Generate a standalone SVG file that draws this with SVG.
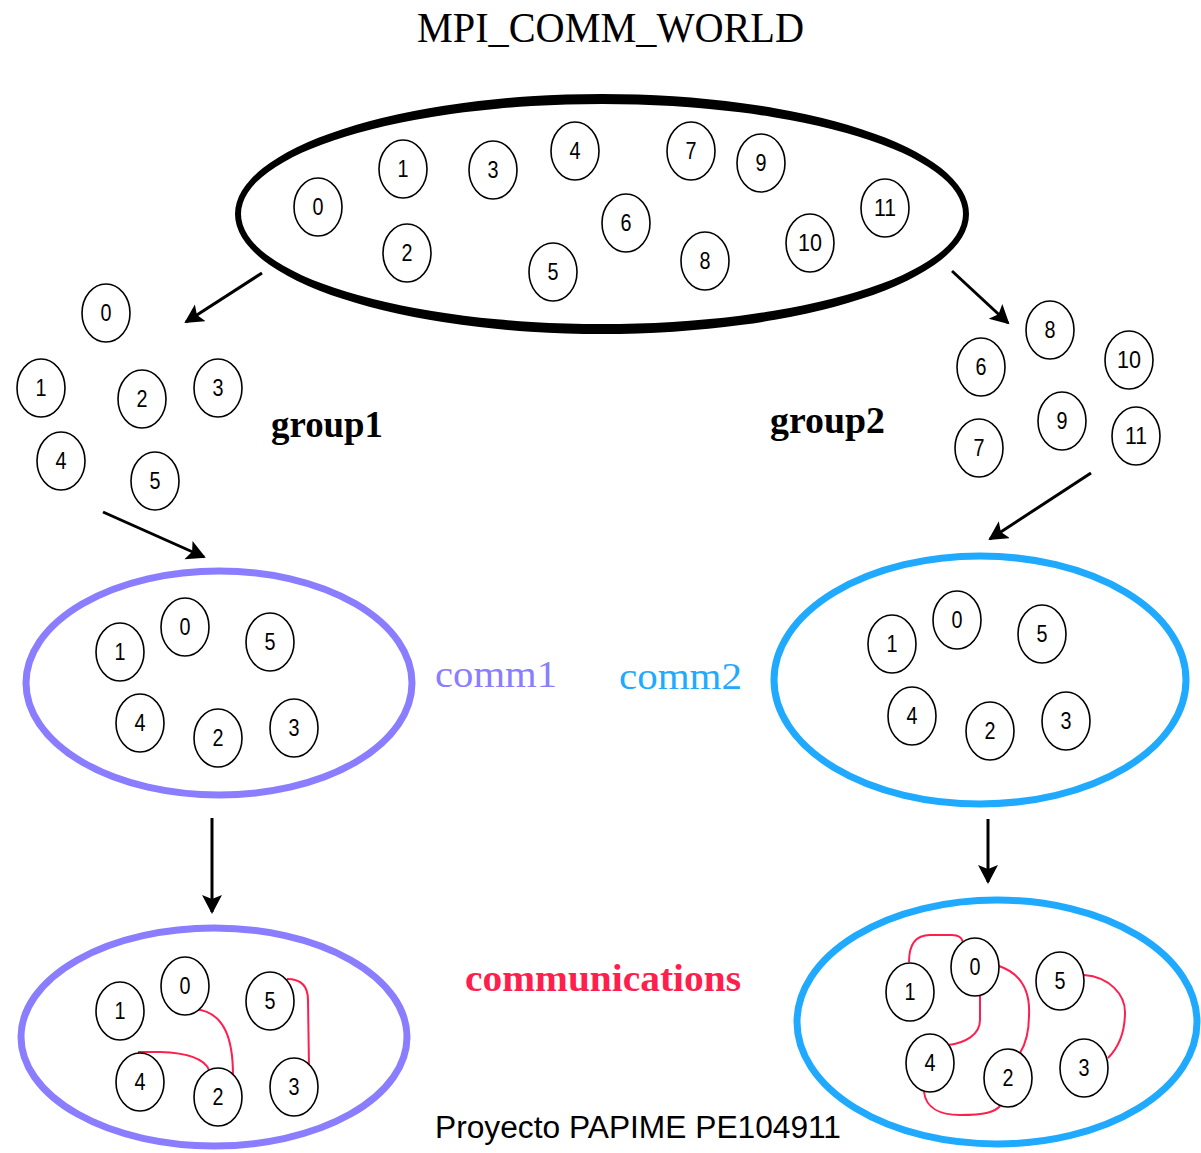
<svg xmlns="http://www.w3.org/2000/svg" width="1201" height="1153" viewBox="0 0 1201 1153">
<style>
.p{fill:#fff;stroke:#000;stroke-width:1.6}
.n{font-family:"Liberation Sans",Arial,sans-serif;font-size:24px;fill:#000;text-anchor:middle}
.big{fill:none}
.lbl{font-family:"Liberation Serif","Times New Roman",serif}
.arr{stroke:#000;stroke-width:3;fill:none;marker-end:url(#ah)}
.red{stroke:#ff1f4f;stroke-width:2;fill:none}
</style>
<defs>
<marker id="ah" markerUnits="userSpaceOnUse" markerWidth="22" markerHeight="22" refX="17" refY="10" orient="auto">
<path d="M0,0 L19,10 L0,20 L4,10 Z" fill="#000"/>
</marker>
<g id="c"><ellipse class="p" cx="0" cy="0" rx="24" ry="29"/></g>
</defs>
<rect width="1201" height="1153" fill="#fff"/>
<text class="lbl" x="417" y="42" font-size="42" textLength="387" lengthAdjust="spacingAndGlyphs">MPI_COMM_WORLD</text>
<g id="world">
<path fill="#000" fill-rule="evenodd" d="M235,214 a367,120 0 1,0 734,0 a367,120 0 1,0 -734,0 Z M241,214 a361,110 0 1,0 722,0 a361,110 0 1,0 -722,0 Z"/>
</g>
<g id="w0"><use href="#c" x="318" y="207"/><text class="n" x="318" y="215" textLength="11" lengthAdjust="spacingAndGlyphs">0</text></g>
<g id="w1"><use href="#c" x="403" y="169"/><text class="n" x="403" y="177" textLength="11" lengthAdjust="spacingAndGlyphs">1</text></g>
<g id="w2"><use href="#c" x="407" y="253"/><text class="n" x="407" y="261" textLength="11" lengthAdjust="spacingAndGlyphs">2</text></g>
<g id="w3"><use href="#c" x="493" y="170"/><text class="n" x="493" y="178" textLength="11" lengthAdjust="spacingAndGlyphs">3</text></g>
<g id="w4"><use href="#c" x="575" y="151"/><text class="n" x="575" y="159" textLength="11" lengthAdjust="spacingAndGlyphs">4</text></g>
<g id="w5"><use href="#c" x="553" y="272"/><text class="n" x="553" y="280" textLength="11" lengthAdjust="spacingAndGlyphs">5</text></g>
<g id="w6"><use href="#c" x="626" y="223"/><text class="n" x="626" y="231" textLength="11" lengthAdjust="spacingAndGlyphs">6</text></g>
<g id="w7"><use href="#c" x="691" y="151"/><text class="n" x="691" y="159" textLength="11" lengthAdjust="spacingAndGlyphs">7</text></g>
<g id="w8"><use href="#c" x="705" y="261"/><text class="n" x="705" y="269" textLength="11" lengthAdjust="spacingAndGlyphs">8</text></g>
<g id="w9"><use href="#c" x="761" y="163"/><text class="n" x="761" y="171" textLength="11" lengthAdjust="spacingAndGlyphs">9</text></g>
<g id="w10"><use href="#c" x="810" y="243"/><text class="n" x="810" y="251" textLength="24" lengthAdjust="spacingAndGlyphs">10</text></g>
<g id="w11"><use href="#c" x="885" y="208"/><text class="n" x="885" y="216" textLength="22" lengthAdjust="spacingAndGlyphs">11</text></g>

<g id="g1-0"><use href="#c" x="106" y="313"/><text class="n" x="106" y="321" textLength="11" lengthAdjust="spacingAndGlyphs">0</text></g>
<g id="g1-1"><use href="#c" x="41" y="388"/><text class="n" x="41" y="396" textLength="11" lengthAdjust="spacingAndGlyphs">1</text></g>
<g id="g1-2"><use href="#c" x="142" y="399"/><text class="n" x="142" y="407" textLength="11" lengthAdjust="spacingAndGlyphs">2</text></g>
<g id="g1-3"><use href="#c" x="218" y="388"/><text class="n" x="218" y="396" textLength="11" lengthAdjust="spacingAndGlyphs">3</text></g>
<g id="g1-4"><use href="#c" x="61" y="461"/><text class="n" x="61" y="469" textLength="11" lengthAdjust="spacingAndGlyphs">4</text></g>
<g id="g1-5"><use href="#c" x="155" y="481"/><text class="n" x="155" y="489" textLength="11" lengthAdjust="spacingAndGlyphs">5</text></g>
<text class="lbl" x="271" y="437" font-size="37" font-weight="bold" textLength="112" lengthAdjust="spacingAndGlyphs">group1</text>

<g id="g2-6"><use href="#c" x="981" y="367"/><text class="n" x="981" y="375" textLength="11" lengthAdjust="spacingAndGlyphs">6</text></g>
<g id="g2-7"><use href="#c" x="979" y="448"/><text class="n" x="979" y="456" textLength="11" lengthAdjust="spacingAndGlyphs">7</text></g>
<g id="g2-8"><use href="#c" x="1050" y="330"/><text class="n" x="1050" y="338" textLength="11" lengthAdjust="spacingAndGlyphs">8</text></g>
<g id="g2-9"><use href="#c" x="1062" y="421"/><text class="n" x="1062" y="429" textLength="11" lengthAdjust="spacingAndGlyphs">9</text></g>
<g id="g2-10"><use href="#c" x="1129" y="360"/><text class="n" x="1129" y="368" textLength="24" lengthAdjust="spacingAndGlyphs">10</text></g>
<g id="g2-11"><use href="#c" x="1136" y="436"/><text class="n" x="1136" y="444" textLength="22" lengthAdjust="spacingAndGlyphs">11</text></g>
<text class="lbl" x="770" y="433" font-size="37" font-weight="bold" textLength="115" lengthAdjust="spacingAndGlyphs">group2</text>

<g id="comm1">
<ellipse class="big" cx="219" cy="683" rx="193" ry="112" stroke="#8a7dff" stroke-width="7"/>
</g>
<g id="c1-0"><use href="#c" x="185" y="627"/><text class="n" x="185" y="635" textLength="11" lengthAdjust="spacingAndGlyphs">0</text></g>
<g id="c1-1"><use href="#c" x="120" y="652"/><text class="n" x="120" y="660" textLength="11" lengthAdjust="spacingAndGlyphs">1</text></g>
<g id="c1-2"><use href="#c" x="218" y="738"/><text class="n" x="218" y="746" textLength="11" lengthAdjust="spacingAndGlyphs">2</text></g>
<g id="c1-3"><use href="#c" x="294" y="728"/><text class="n" x="294" y="736" textLength="11" lengthAdjust="spacingAndGlyphs">3</text></g>
<g id="c1-4"><use href="#c" x="140" y="723"/><text class="n" x="140" y="731" textLength="11" lengthAdjust="spacingAndGlyphs">4</text></g>
<g id="c1-5"><use href="#c" x="270" y="642"/><text class="n" x="270" y="650" textLength="11" lengthAdjust="spacingAndGlyphs">5</text></g>
<text class="lbl" x="435" y="687" font-size="38" fill="#8a7dff" textLength="122" lengthAdjust="spacingAndGlyphs">comm1</text>

<g id="comm2">
<ellipse class="big" cx="980" cy="680" rx="206" ry="124" stroke="#1faaff" stroke-width="7"/>
</g>
<g id="c2-0"><use href="#c" x="957" y="620"/><text class="n" x="957" y="628" textLength="11" lengthAdjust="spacingAndGlyphs">0</text></g>
<g id="c2-1"><use href="#c" x="892" y="644"/><text class="n" x="892" y="652" textLength="11" lengthAdjust="spacingAndGlyphs">1</text></g>
<g id="c2-2"><use href="#c" x="990" y="731"/><text class="n" x="990" y="739" textLength="11" lengthAdjust="spacingAndGlyphs">2</text></g>
<g id="c2-3"><use href="#c" x="1066" y="721"/><text class="n" x="1066" y="729" textLength="11" lengthAdjust="spacingAndGlyphs">3</text></g>
<g id="c2-4"><use href="#c" x="912" y="716"/><text class="n" x="912" y="724" textLength="11" lengthAdjust="spacingAndGlyphs">4</text></g>
<g id="c2-5"><use href="#c" x="1042" y="634"/><text class="n" x="1042" y="642" textLength="11" lengthAdjust="spacingAndGlyphs">5</text></g>
<text class="lbl" x="619" y="689" font-size="38" fill="#1faaff" textLength="123" lengthAdjust="spacingAndGlyphs">comm2</text>

<text class="lbl" x="465" y="991" font-size="38" font-weight="bold" fill="#ff1f4f" textLength="276" lengthAdjust="spacingAndGlyphs">communications</text>

<g id="comm1b">
<ellipse class="big" cx="214" cy="1037" rx="193" ry="109" stroke="#8a7dff" stroke-width="7"/>
</g>
<g id="comm2b">
<ellipse class="big" cx="997" cy="1022" rx="200" ry="122" stroke="#1faaff" stroke-width="7"/>
</g>

<g id="connectors">
<line class="arr" x1="262" y1="273" x2="186" y2="322"/>
<line class="arr" x1="952" y1="271" x2="1008" y2="323"/>
<line class="arr" x1="103" y1="512" x2="204" y2="557"/>
<line class="arr" x1="1091" y1="473" x2="990" y2="539"/>
<line class="arr" x1="212" y1="818" x2="212" y2="912"/>
<line class="arr" x1="988" y1="819" x2="988" y2="882"/>
<path class="red" d="M195,1009 C225,1012 233,1040 233,1075"/>
<path class="red" d="M138,1052 L160,1052 C190,1053 205,1060 209,1070"/>
<path class="red" d="M287,979 C300,979 308,985 308,1000 L309,1067"/>
<path class="red" d="M909,962 C909,945 915,935 930,935 L952,935 C958,935 962,938 963,942"/>
<path class="red" d="M980,996 L980,1020 C980,1035 965,1043 948,1045"/>
<path class="red" d="M999,966 C1025,975 1030,995 1029,1015 C1029,1035 1025,1045 1020,1053"/>
<path class="red" d="M924,1092 C926,1108 940,1115 960,1115 C985,1115 995,1112 1000,1106"/>
<path class="red" d="M1084,975 C1110,977 1125,995 1125,1012 C1125,1035 1118,1048 1108,1058"/>
</g>

<g id="b1-0"><use href="#c" x="185" y="986"/><text class="n" x="185" y="994" textLength="11" lengthAdjust="spacingAndGlyphs">0</text></g>
<g id="b1-1"><use href="#c" x="120" y="1011"/><text class="n" x="120" y="1019" textLength="11" lengthAdjust="spacingAndGlyphs">1</text></g>
<g id="b1-2"><use href="#c" x="218" y="1097"/><text class="n" x="218" y="1105" textLength="11" lengthAdjust="spacingAndGlyphs">2</text></g>
<g id="b1-3"><use href="#c" x="294" y="1087"/><text class="n" x="294" y="1095" textLength="11" lengthAdjust="spacingAndGlyphs">3</text></g>
<g id="b1-4"><use href="#c" x="140" y="1082"/><text class="n" x="140" y="1090" textLength="11" lengthAdjust="spacingAndGlyphs">4</text></g>
<g id="b1-5"><use href="#c" x="270" y="1001"/><text class="n" x="270" y="1009" textLength="11" lengthAdjust="spacingAndGlyphs">5</text></g>

<g id="b2-0"><use href="#c" x="975" y="967"/><text class="n" x="975" y="975" textLength="11" lengthAdjust="spacingAndGlyphs">0</text></g>
<g id="b2-1"><use href="#c" x="910" y="992"/><text class="n" x="910" y="1000" textLength="11" lengthAdjust="spacingAndGlyphs">1</text></g>
<g id="b2-2"><use href="#c" x="1008" y="1078"/><text class="n" x="1008" y="1086" textLength="11" lengthAdjust="spacingAndGlyphs">2</text></g>
<g id="b2-3"><use href="#c" x="1084" y="1068"/><text class="n" x="1084" y="1076" textLength="11" lengthAdjust="spacingAndGlyphs">3</text></g>
<g id="b2-4"><use href="#c" x="930" y="1063"/><text class="n" x="930" y="1071" textLength="11" lengthAdjust="spacingAndGlyphs">4</text></g>
<g id="b2-5"><use href="#c" x="1060" y="981"/><text class="n" x="1060" y="989" textLength="11" lengthAdjust="spacingAndGlyphs">5</text></g>

<text x="435" y="1138" font-family="'Liberation Sans',Arial,sans-serif" font-size="31" fill="#000" textLength="406" lengthAdjust="spacingAndGlyphs">Proyecto PAPIME PE104911</text>
</svg>
